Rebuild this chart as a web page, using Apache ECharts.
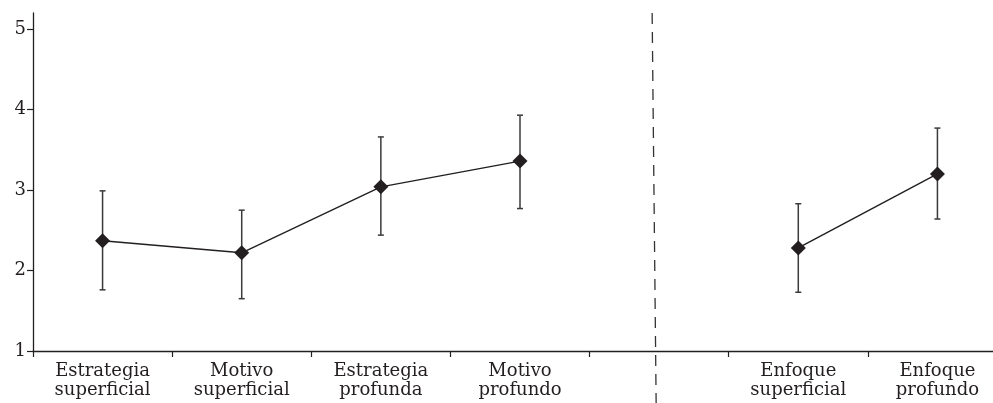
<!DOCTYPE html>
<html>
<head>
<meta charset="utf-8">
<script src="https://cdn.jsdelivr.net/npm/echarts@6/dist/echarts.min.js"></script>
<style>
  html, body { margin: 0; padding: 0; background: #ffffff; }
  #chart { width: 993px; height: 403px; }
</style>
</head>
<body>
<div id="chart"></div>
<script>
// ---- data ----
var categories = ['Estrategia\nsuperficial', 'Motivo\nsuperficial', 'Estrategia\nprofunda', 'Motivo\nprofundo', '', 'Enfoque\nsuperficial', 'Enfoque\nprofundo'];
var means = [2.37, 2.22, 3.04, 3.36, null, 2.28, 3.20];
var upper = [2.99, 2.75, 3.66, 3.93, null, 2.83, 3.77];
var lower = [1.76, 1.65, 2.44, 2.77, null, 1.73, 2.64];
var yTicks = [1, 2, 3, 4, 5];
var separatorIndex = 4;

var ink = '#231f20';
var fontFam = '"DejaVu Serif", serif';

var errData = [];
for (var i = 0; i < categories.length; i++) {
  if (means[i] !== null) errData.push([i, lower[i], upper[i]]);
}

var chart = echarts.init(document.getElementById('chart'));
chart.setOption({
  animation: false,
  backgroundColor: '#ffffff',
  grid: { left: 33, top: 13, width: 974, height: 338, containLabel: false, outerBoundsMode: 'none' },
  xAxis: {
    type: 'category',
    data: categories,
    boundaryGap: true,
    axisLine: { lineStyle: { color: ink, width: 1.3 } },
    axisTick: { show: true, length: 6, lineStyle: { color: ink, width: 1.2 } },
    axisLabel: {
      color: ink, fontFamily: fontFam, fontSize: 18, lineHeight: 19,
      margin: 11, interval: 0
    },
    splitLine: { show: false }
  },
  yAxis: {
    type: 'value',
    min: 1, max: 5.2,
    axisLine: { show: true, lineStyle: { color: ink, width: 1.3 } },
    axisTick: { show: true, length: 6, customValues: yTicks, lineStyle: { color: ink, width: 1.2 } },
    axisLabel: { color: ink, fontFamily: fontFam, fontSize: 18, margin: 7, customValues: yTicks },
    splitLine: { show: false }
  },
  series: [
    {
      type: 'custom',
      data: errData,
      z: 2,
      renderItem: function (params, api) {
        var x = api.value(0);
        var lo = api.coord([x, api.value(1)]);
        var hi = api.coord([x, api.value(2)]);
        var hw = 3;
        var st = { stroke: '#3a3a3a', lineWidth: 1.5 };
        return {
          type: 'group',
          children: [
            { type: 'line', shape: { x1: lo[0], y1: lo[1], x2: hi[0], y2: hi[1] }, style: st },
            { type: 'line', shape: { x1: hi[0] - hw, y1: hi[1], x2: hi[0] + hw, y2: hi[1] }, style: st },
            { type: 'line', shape: { x1: lo[0] - hw, y1: lo[1], x2: lo[0] + hw, y2: lo[1] }, style: st }
          ]
        };
      }
    },
    {
      type: 'line',
      data: means,
      z: 3,
      connectNulls: false,
      symbol: 'diamond',
      symbolSize: [15, 15],
      showAllSymbol: true,
      itemStyle: { color: ink },
      lineStyle: { color: ink, width: 1.4 }
    }
  ]
});

// vertical dashed separator placed through the empty category
var sx = chart.convertToPixel({ xAxisIndex: 0 }, separatorIndex);
var sTop = chart.convertToPixel({ yAxisIndex: 0 }, 5.2);
chart.setOption({
  graphic: [{
    type: 'line',
    shape: { x1: sx - 7, y1: sTop, x2: sx - 3, y2: 403 },
    style: { stroke: '#333', lineWidth: 1.3, lineDash: [11, 8] },
    z: 1
  }]
});
</script>
</body>
</html>
